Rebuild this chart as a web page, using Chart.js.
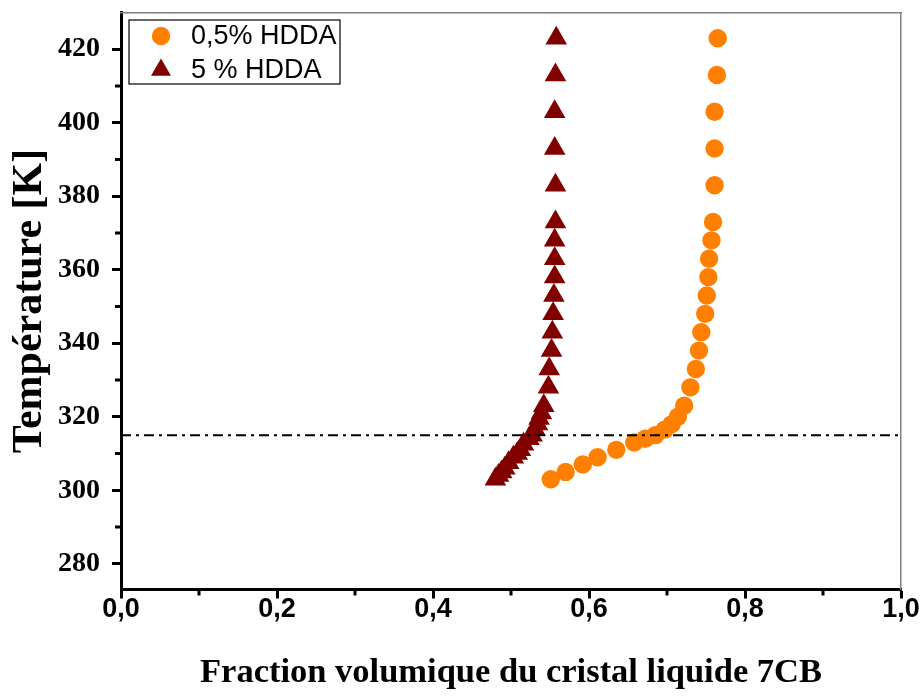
<!DOCTYPE html>
<html>
<head>
<meta charset="utf-8">
<script src="https://cdn.jsdelivr.net/npm/chart.js@4.4.1/dist/chart.umd.min.js"></script>
<style>
  html, body { margin:0; padding:0; background:#fff; }
  #wrap { width:923px; height:697px; }
</style>
</head>
<body>
<div id="wrap"><canvas id="chart" width="923" height="697"></canvas></div>
<script>
// ---------- data ----------
const orangeLabel = "0,5% HDDA";
const orangeT = [303, 305, 307, 309, 311, 313, 314, 315, 316.5, 318, 320, 323, 328, 333, 338, 343, 348, 353, 358, 363, 368, 373, 383, 393, 403, 413, 423];
const orangeX = [0.551, 0.570, 0.592, 0.611, 0.635, 0.658, 0.672, 0.685, 0.697, 0.706, 0.714, 0.722, 0.730, 0.737, 0.741, 0.744, 0.749, 0.751, 0.753, 0.754, 0.757, 0.759, 0.761, 0.761, 0.761, 0.764, 0.765];

const redLabel = "5 % HDDA";
const redT = [303, 304, 305, 306, 307.5, 309, 310, 311, 312.5, 314, 315, 316.5, 318, 319.5, 321, 323, 328, 333, 338, 343, 348, 353, 358, 363, 368, 373, 383, 393, 403, 413, 423];
const redX = [0.480, 0.484, 0.488, 0.492, 0.497, 0.503, 0.508, 0.512, 0.516, 0.523, 0.527, 0.531, 0.534, 0.536, 0.539, 0.542, 0.548, 0.549, 0.552, 0.553, 0.554, 0.555, 0.556, 0.556, 0.556, 0.557, 0.557, 0.556, 0.556, 0.557, 0.558];

const refT = 315; // dash-dot reference line
const refX = [0, 1];

const xTicks = [0, 0.2, 0.4, 0.6, 0.8, 1.0];
const xTickLabels = ["0,0", "0,2", "0,4", "0,6", "0,8", "1,0"];
const xMinor = [0.1, 0.3, 0.5, 0.7, 0.9];
const yTicks = [280, 300, 320, 340, 360, 380, 400, 420];
const yMinor = [290, 310, 330, 350, 370, 390, 410];

const SERIF = "'Liberation Serif', 'Times New Roman', serif";
const SANS = "'Liberation Sans', Arial, sans-serif";

function toPoints(xs, ts){
  return xs.map((x, i) => ({ x, y: ts[i] }));
}

// Chart.js has no minor ticks on linear axes, so draw them from the scales
const minorTicks = {
  id: "minorTicks",
  afterDraw(chart){
    const { ctx, chartArea: a, scales } = chart;
    ctx.save();
    ctx.strokeStyle = "#000";
    ctx.lineWidth = 3;
    ctx.beginPath();
    xMinor.forEach(v => {
      const px = scales.x.getPixelForValue(v);
      ctx.moveTo(px, a.bottom);
      ctx.lineTo(px, a.bottom + 6);
    });
    yMinor.forEach(v => {
      const py = scales.y.getPixelForValue(v);
      ctx.moveTo(a.left, py);
      ctx.lineTo(a.left - 6, py);
    });
    ctx.stroke();
    ctx.restore();
  }
};

// framed legend inside the plot, top-left
const legendBox = {
  id: "legendBox",
  afterDraw(chart){
    const { ctx, chartArea: a } = chart;
    const x0 = a.left + 8, y0 = a.top + 7.5;
    ctx.save();
    ctx.strokeStyle = "#000";
    ctx.lineWidth = 1.2;
    ctx.strokeRect(x0, y0, 211, 64);
    ctx.font = "27px " + SANS;
    ctx.fillStyle = "#000";
    ctx.textBaseline = "middle";
    const rows = [
      { ds: chart.data.datasets[1], my: 16, r: 9.2 },
      { ds: chart.data.datasets[2], my: 50, r: 11.5 }
    ];
    rows.forEach(row => {
      ctx.fillStyle = row.ds.backgroundColor;
      Chart.helpers.drawPoint(ctx, { pointStyle: row.ds.pointStyle, radius: row.r, rotation: 0, borderWidth: 0 }, x0 + 32, y0 + row.my);
      ctx.fillStyle = "#000";
      ctx.fillText(row.ds.label, x0 + 62, y0 + row.my + 1);
    });
    ctx.restore();
  }
};

const tickGrid = { display: true, drawOnChartArea: false, drawTicks: true, tickLength: 9, tickWidth: 3, tickColor: "#000" };

new Chart(document.getElementById("chart"), {
  type: "scatter",
  data: {
    datasets: [
      {
        type: "line",
        label: "T = 315 K",
        data: toPoints(refX, [refT, refT]),
        borderColor: "#000",
        borderWidth: 2,
        borderDash: [10, 5, 3, 5],
        pointRadius: 0,
        fill: false,
        order: 0
      },
      {
        label: orangeLabel,
        data: toPoints(orangeX, orangeT),
        pointStyle: "circle",
        pointRadius: 9.2,
        backgroundColor: "#ff8000",
        borderWidth: 0,
        order: 2
      },
      {
        label: redLabel,
        data: toPoints(redX, redT),
        pointStyle: "triangle",
        pointRadius: 12.5,
        backgroundColor: "#800000",
        borderWidth: 0,
        order: 1
      }
    ]
  },
  options: {
    responsive: false,
    animation: false,
    devicePixelRatio: 1,
    layout: { padding: { top: 9.5, right: 22, left: 0, bottom: 0 } },
    plugins: { legend: { display: false }, tooltip: { enabled: false } },
    scales: {
      x: {
        type: "linear", position: "bottom", min: 0, max: 1,
        afterBuildTicks: s => { s.ticks = xTicks.map(v => ({ value: v })); },
        afterFit: s => { s.height = 107.5; s.paddingLeft = 0; s.paddingRight = 0; },
        ticks: {
          callback: v => xTickLabels[xTicks.indexOf(v)],
          font: { family: SANS, size: 27, weight: "bold" },
          color: "#000", padding: -5, maxRotation: 0, autoSkip: false
        },
        grid: tickGrid,
        border: { display: true, color: "#000", width: 3 },
        title: {
          display: true, text: "Fraction volumique du cristal liquide 7CB",
          font: { family: SERIF, size: 34.5, weight: "bold" }, color: "#000",
          padding: { top: 0, bottom: 3 }
        }
      },
      y: {
        type: "linear", position: "left", min: 273, max: 430,
        afterBuildTicks: s => { s.ticks = yTicks.map(v => ({ value: v })); },
        afterFit: s => { s.width = 121; s.paddingTop = 0; s.paddingBottom = 0; },
        ticks: {
          font: { family: SERIF, size: 28, weight: "bold" },
          color: "#000", padding: 12
        },
        grid: tickGrid,
        border: { display: true, color: "#000", width: 3 },
        title: {
          display: true, text: "Température [K]",
          font: { family: SERIF, size: 42, weight: "bold" }, color: "#000",
          padding: { top: 5, bottom: 0 }
        }
      },
      x2: {
        type: "linear", position: "top", min: 0, max: 1,
        afterFit: s => { s.height = 0; },
        ticks: { display: false },
        grid: { display: false },
        border: { display: true, color: "#808080", width: 1.5 }
      },
      y2: {
        type: "linear", position: "right", min: 273, max: 430,
        afterFit: s => { s.width = 0; },
        ticks: { display: false },
        grid: { display: false },
        border: { display: true, color: "#808080", width: 1.5 }
      }
    }
  },
  plugins: [minorTicks, legendBox]
});
</script>
</body>
</html>
